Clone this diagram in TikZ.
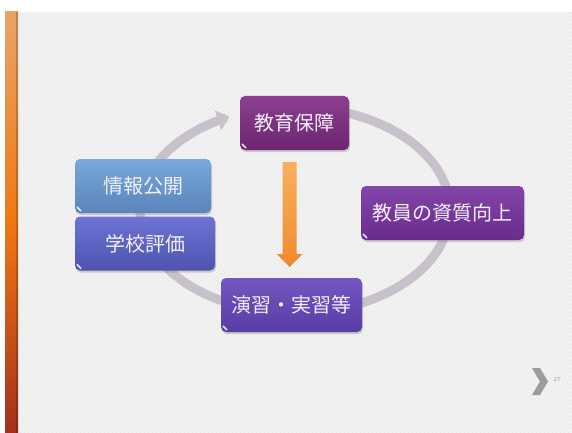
\documentclass[tikz,border=0pt]{standalone}
\usepackage{fontspec}
\newfontfamily\jp{Noto Sans CJK JP}
\usetikzlibrary{arrows.meta,shadows}
\definecolor{bgc}{HTML}{F4F4F4}
\definecolor{stripec}{HTML}{E9E9E9}
\definecolor{barTop}{HTML}{E8A468}
\definecolor{barMid}{HTML}{F07812}
\definecolor{barBot}{HTML}{A3301E}
\definecolor{arcc}{HTML}{C6C1CA}
\definecolor{orTop}{HTML}{F8B05E}
\definecolor{orBot}{HTML}{F08A2C}
\definecolor{puTop}{HTML}{8C3F90}
\definecolor{puBot}{HTML}{6C2570}
\definecolor{viTop}{HTML}{8346A8}
\definecolor{viBot}{HTML}{692C8E}
\definecolor{inTop}{HTML}{7356C0}
\definecolor{inBot}{HTML}{5A3CA6}
\definecolor{blTop}{HTML}{78A8DC}
\definecolor{blBot}{HTML}{5A84BA}
\definecolor{ibTop}{HTML}{6C74D4}
\definecolor{ibBot}{HTML}{4E53AE}
\definecolor{txtc}{HTML}{F4F0F8}
\definecolor{chevc}{HTML}{9C9C9C}
\begin{document}
\begin{tikzpicture}[x=1pt,y=-1pt,
  box/.style={rounded corners=5pt, minimum height=54pt, inner sep=0pt,
    text=txtc, font=\jp\fontsize{20}{24}\selectfont,
    drop shadow={opacity=0.35, shadow xshift=1pt, shadow yshift=-2pt}},
  purplebox/.style={box, top color=puTop, bottom color=puBot},
  violetbox/.style={box, top color=viTop, bottom color=viBot},
  indigobox/.style={box, top color=inTop, bottom color=inBot},
  bluebox/.style={box, top color=blTop, bottom color=blBot},
  ibluebox/.style={box, top color=ibTop, bottom color=ibBot},
  curl/.style={white, opacity=0.85, line width=1.6pt, line cap=round},
  arcline/.style={arcc, line width=9pt, -{Triangle[width=20pt,length=12pt]}},
]
\useasboundingbox (0,0) rectangle (572,433);
% background
\fill[white] (0,0) rectangle (572,433);
\fill[bgc] (18,12) rectangle (572,433);
\begin{scope}
  \clip (18,12) rectangle (572,433);
  \foreach \i in {-424,-420,...,572} \draw[stripec, line width=0.8pt] (\i,12) -- (\i+421,433);
\end{scope}
% left bar
\shade[top color=barTop, bottom color=barBot, middle color=barMid] (5,12) rectangle (18,433);
\fill[black, opacity=0.18] (15.5,12) rectangle (18,433);
% cycle arc
\draw[arcline] plot[domain=-80:245, samples=140, smooth] ({295+155*cos(\x)},{210+103*sin(\x)});
% orange arrow
\coordinate (oa) at (289.5,162);
\coordinate (ob) at (289.5,267);
\shade[top color=orTop, bottom color=orBot] (282.5,162) -- (296.5,162) -- (296.5,254) -- (302.5,254) -- (ob) -- (276.5,254) -- (282.5,254) -- cycle;
% boxes
\node[purplebox, minimum width=109pt] (edu) at (294.5,123) {教育保障};
\node[violetbox, minimum width=163pt] (tea) at (442.5,213) {教員の資質向上};
\node[indigobox, minimum width=141pt] (pra) at (291.5,305) {演習・実習等};
\node[bluebox, minimum width=136pt] (inf) at (143,186) {情報公開};
\node[ibluebox, minimum width=140pt] (sch) at (145,243.5) {学校評価};
% corner curls
\foreach \n in {edu,tea,pra,inf,sch}
  \draw[curl] ([xshift=2.5pt,yshift=6pt]\n.south west) -- ([xshift=6pt,yshift=2.5pt]\n.south west);
% page marker
\fill[chevc] (532,368) -- (540,368) -- (548,381.5) -- (540,395) -- (532,395) -- (540,381.5) -- cycle;
\node[font=\fontsize{6}{7}\selectfont, text=gray!80] (pg) at (557,380) {27};
\end{tikzpicture}
\end{document}
